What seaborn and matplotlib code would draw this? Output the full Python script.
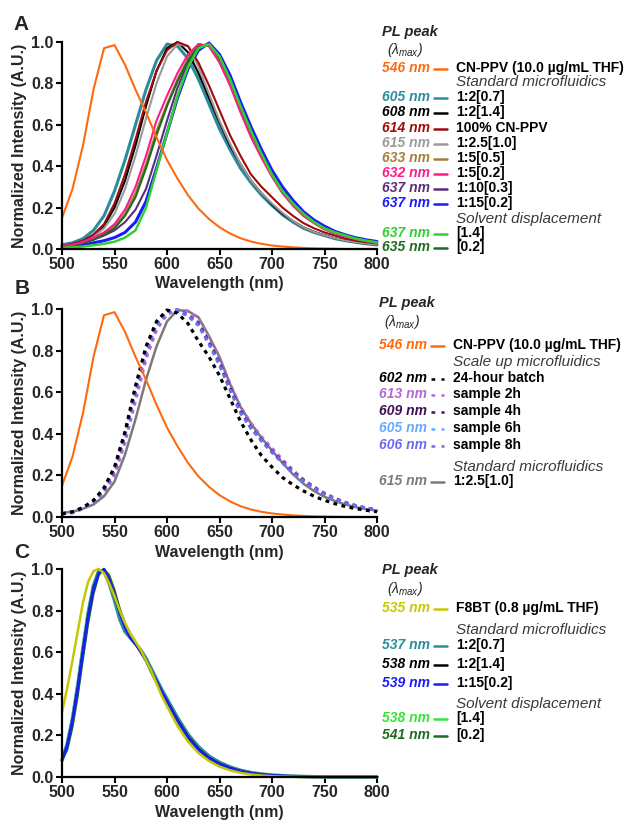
import matplotlib
matplotlib.use("Agg")
import matplotlib.pyplot as plt
from matplotlib.lines import Line2D
import seaborn as sns

# ---------------- DATA ----------------
wl_ab = [500, 510, 520, 530, 540, 550, 560, 570, 580, 590, 600, 610, 620, 630, 640, 650,
         660, 670, 680, 690, 700, 710, 720, 730, 740, 750, 760, 770, 780, 790, 800]

cnppv_thf = [0.15, 0.29, 0.50, 0.77, 0.97, 0.985, 0.89, 0.77, 0.66, 0.54, 0.43, 0.34, 0.26, 0.195, 0.145, 0.105,
             0.075, 0.052, 0.036, 0.025, 0.017, 0.012, 0.008, 0.005, 0.003, 0.002, 0.001, 0.0, 0.0, 0.0, 0.0]

# Panel A
a_605 = [0.02, 0.03, 0.05, 0.09, 0.16, 0.28, 0.43, 0.60, 0.77, 0.91, 0.99, 0.98, 0.92, 0.82, 0.70, 0.58,
         0.48, 0.39, 0.32, 0.26, 0.21, 0.165, 0.13, 0.10, 0.08, 0.065, 0.05, 0.04, 0.032, 0.025, 0.02]
a_608 = [0.015, 0.02, 0.035, 0.06, 0.11, 0.20, 0.33, 0.50, 0.69, 0.86, 0.97, 1.0, 0.95, 0.85, 0.73, 0.61,
         0.50, 0.41, 0.33, 0.27, 0.215, 0.17, 0.135, 0.105, 0.083, 0.066, 0.052, 0.041, 0.033, 0.026, 0.021]
a_614 = [0.015, 0.025, 0.04, 0.07, 0.12, 0.22, 0.36, 0.53, 0.71, 0.86, 0.96, 1.0, 0.98, 0.90, 0.79, 0.67,
         0.55, 0.45, 0.36, 0.30, 0.25, 0.20, 0.16, 0.125, 0.10, 0.08, 0.065, 0.05, 0.04, 0.033, 0.027]
a_615 = [0.015, 0.02, 0.035, 0.06, 0.10, 0.17, 0.29, 0.45, 0.63, 0.80, 0.93, 0.99, 0.98, 0.88, 0.75, 0.62,
         0.51, 0.41, 0.33, 0.27, 0.22, 0.175, 0.135, 0.105, 0.082, 0.066, 0.052, 0.041, 0.033, 0.026, 0.021]
a_633 = [0.015, 0.02, 0.03, 0.05, 0.075, 0.11, 0.17, 0.27, 0.41, 0.57, 0.70, 0.82, 0.92, 0.99, 0.98, 0.91,
         0.80, 0.67, 0.55, 0.45, 0.35, 0.27, 0.21, 0.16, 0.125, 0.095, 0.075, 0.06, 0.048, 0.038, 0.03]
a_632 = [0.015, 0.02, 0.035, 0.055, 0.08, 0.12, 0.19, 0.30, 0.45, 0.62, 0.74, 0.85, 0.94, 0.99, 0.98, 0.90,
         0.79, 0.66, 0.54, 0.44, 0.35, 0.27, 0.21, 0.16, 0.125, 0.095, 0.075, 0.06, 0.048, 0.038, 0.03]
a_637_purple = [0.015, 0.02, 0.03, 0.045, 0.065, 0.09, 0.13, 0.19, 0.29, 0.45, 0.62, 0.78, 0.90, 0.97, 0.99, 0.93,
                0.82, 0.69, 0.57, 0.46, 0.36, 0.28, 0.22, 0.17, 0.13, 0.10, 0.08, 0.064, 0.05, 0.04, 0.032]
a_637_blue = [0.01, 0.015, 0.02, 0.03, 0.04, 0.055, 0.08, 0.13, 0.23, 0.39, 0.56, 0.73, 0.87, 0.96, 0.995, 0.94,
              0.84, 0.71, 0.59, 0.48, 0.38, 0.30, 0.235, 0.18, 0.14, 0.11, 0.085, 0.068, 0.054, 0.044, 0.036]
a_637_green = [0.005, 0.008, 0.012, 0.018, 0.025, 0.035, 0.055, 0.09, 0.20, 0.38, 0.56, 0.74, 0.88, 0.97, 0.99, 0.93,
               0.82, 0.69, 0.57, 0.46, 0.36, 0.28, 0.22, 0.17, 0.13, 0.10, 0.08, 0.065, 0.05, 0.04, 0.032]
a_635 = [0.015, 0.02, 0.03, 0.045, 0.07, 0.10, 0.16, 0.25, 0.39, 0.55, 0.69, 0.81, 0.91, 0.98, 0.99, 0.92,
         0.81, 0.68, 0.56, 0.45, 0.355, 0.275, 0.215, 0.165, 0.13, 0.10, 0.078, 0.062, 0.05, 0.04, 0.032]

# Panel B
b_batch = [0.015, 0.025, 0.045, 0.08, 0.14, 0.24, 0.41, 0.63, 0.82, 0.94, 0.995, 0.98, 0.93, 0.845, 0.77, 0.68,
           0.57, 0.46, 0.37, 0.295, 0.24, 0.19, 0.155, 0.125, 0.10, 0.08, 0.064, 0.05, 0.04, 0.032, 0.025]
b_2h = [0.015, 0.02, 0.04, 0.07, 0.12, 0.20, 0.36, 0.56, 0.76, 0.90, 0.975, 0.995, 0.99, 0.95, 0.86, 0.76,
        0.64, 0.53, 0.45, 0.385, 0.33, 0.275, 0.225, 0.18, 0.145, 0.115, 0.09, 0.07, 0.055, 0.043, 0.035]
b_4h = [0.015, 0.025, 0.045, 0.075, 0.13, 0.225, 0.395, 0.605, 0.795, 0.93, 0.99, 0.995, 0.97, 0.93, 0.84, 0.74,
        0.62, 0.51, 0.43, 0.37, 0.315, 0.265, 0.215, 0.175, 0.14, 0.11, 0.087, 0.068, 0.053, 0.042, 0.034]
b_6h = [0.015, 0.025, 0.045, 0.075, 0.135, 0.23, 0.40, 0.61, 0.80, 0.93, 0.99, 0.995, 0.965, 0.92, 0.83, 0.73,
        0.61, 0.50, 0.425, 0.365, 0.31, 0.26, 0.21, 0.17, 0.137, 0.108, 0.085, 0.066, 0.052, 0.041, 0.033]
b_8h = [0.015, 0.025, 0.045, 0.075, 0.13, 0.225, 0.395, 0.60, 0.79, 0.925, 0.99, 0.99, 0.97, 0.925, 0.835, 0.735,
        0.615, 0.505, 0.43, 0.368, 0.312, 0.262, 0.212, 0.172, 0.138, 0.109, 0.086, 0.067, 0.052, 0.041, 0.033]
b_615 = [0.02, 0.025, 0.04, 0.06, 0.10, 0.17, 0.30, 0.47, 0.66, 0.82, 0.94, 0.995, 0.99, 0.96, 0.87, 0.77,
         0.64, 0.53, 0.45, 0.38, 0.32, 0.26, 0.205, 0.16, 0.125, 0.097, 0.077, 0.06, 0.047, 0.038, 0.03]

# Panel C
wl_c = [500, 505, 510, 515, 520, 525, 530, 535, 540, 545, 550, 555, 560, 565, 570, 575, 580, 585, 590, 595, 600,
        610, 620, 630, 640, 650, 660, 670, 680, 690, 700, 710, 720, 730, 740, 750, 760, 770, 780, 790, 800]
f8bt_thf = [0.31, 0.43, 0.56, 0.70, 0.84, 0.94, 0.99, 1.0, 0.98, 0.93, 0.87, 0.80, 0.74, 0.69, 0.65, 0.61, 0.56,
            0.51, 0.45, 0.39, 0.34,
            0.245, 0.17, 0.115, 0.077, 0.05, 0.032, 0.02, 0.012, 0.007, 0.004, 0.002, 0.001, 0.0, 0.0, 0.0,
            0.0, 0.0, 0.0, 0.0, 0.0]
c_537 = [0.08, 0.16, 0.28, 0.44, 0.62, 0.79, 0.92, 0.99, 0.99, 0.93, 0.85, 0.76, 0.70, 0.67, 0.64, 0.61, 0.57,
         0.52, 0.47, 0.42, 0.375,
         0.285, 0.205, 0.145, 0.10, 0.07, 0.048, 0.032, 0.021, 0.014, 0.009, 0.006, 0.004, 0.002, 0.001, 0.0,
         0.0, 0.0, 0.0, 0.0, 0.0]
c_538_black = [0.08, 0.15, 0.27, 0.43, 0.61, 0.78, 0.91, 0.98, 0.995, 0.95, 0.87, 0.79, 0.72, 0.67, 0.64, 0.60, 0.56,
               0.51, 0.46, 0.41, 0.365,
               0.275, 0.195, 0.135, 0.093, 0.064, 0.044, 0.029, 0.019, 0.012, 0.008, 0.005, 0.003, 0.001, 0.0, 0.0,
               0.0, 0.0, 0.0, 0.0, 0.0]
c_539 = [0.08, 0.15, 0.27, 0.42, 0.60, 0.77, 0.90, 0.98, 1.0, 0.95, 0.88, 0.79, 0.72, 0.67, 0.64, 0.60, 0.56,
         0.51, 0.46, 0.41, 0.365,
         0.27, 0.19, 0.13, 0.09, 0.062, 0.042, 0.028, 0.018, 0.012, 0.008, 0.005, 0.003, 0.001, 0.0, 0.0,
         0.0, 0.0, 0.0, 0.0, 0.0]
c_538_green = [0.08, 0.14, 0.25, 0.41, 0.59, 0.76, 0.90, 0.98, 1.0, 0.96, 0.89, 0.80, 0.73, 0.68, 0.645, 0.60, 0.555,
               0.50, 0.45, 0.40, 0.355,
               0.265, 0.185, 0.125, 0.085, 0.058, 0.039, 0.026, 0.017, 0.011, 0.007, 0.004, 0.002, 0.001, 0.0, 0.0,
               0.0, 0.0, 0.0, 0.0, 0.0]
c_541 = [0.08, 0.13, 0.24, 0.39, 0.57, 0.74, 0.88, 0.97, 1.0, 0.97, 0.90, 0.81, 0.74, 0.69, 0.65, 0.605, 0.56,
         0.505, 0.455, 0.405, 0.36,
         0.27, 0.19, 0.13, 0.088, 0.06, 0.04, 0.027, 0.018, 0.011, 0.007, 0.004, 0.002, 0.001, 0.0, 0.0,
         0.0, 0.0, 0.0, 0.0, 0.0]

# Legend texts
a_peaks = ["546 nm", "605 nm", "608 nm", "614 nm", "615 nm", "633 nm", "632 nm", "637 nm", "637 nm", "637 nm", "635 nm"]
a_names = ["CN-PPV (10.0 \u00b5g/mL THF)", "1:2[0.7]", "1:2[1.4]", "100% CN-PPV", "1:2.5[1.0]", "1:5[0.5]",
           "1:5[0.2]", "1:10[0.3]", "1:15[0.2]", "[1.4]", "[0.2]"]
b_peaks = ["546 nm", "602 nm", "613 nm", "609 nm", "605 nm", "606 nm", "615 nm"]
b_names = ["CN-PPV (10.0 \u00b5g/mL THF)", "24-hour batch", "sample 2h", "sample 4h", "sample 6h", "sample 8h",
           "1:2.5[1.0]"]
c_peaks = ["535 nm", "537 nm", "538 nm", "539 nm", "538 nm", "541 nm"]
c_names = ["F8BT (0.8 \u00b5g/mL THF)", "1:2[0.7]", "1:2[1.4]", "1:15[0.2]", "[1.4]", "[0.2]"]

x_ticks = [500, 550, 600, 650, 700, 750, 800]
y_ticks = [0.0, 0.2, 0.4, 0.6, 0.8, 1.0]

# ---------------- STYLE ----------------
sns.set_theme(style="ticks")
plt.rcParams["font.family"] = ["Liberation Sans", "DejaVu Sans"]
plt.rcParams["mathtext.fontset"] = "custom"
plt.rcParams["mathtext.it"] = "Liberation Sans:italic"
plt.rcParams["mathtext.rm"] = "Liberation Sans"

W, H = 629, 823
fig = plt.figure(figsize=(W / 100, H / 100), dpi=100)


def fx(px):
    return px / W


def fy(py):
    return 1 - py / H


def make_ax(top, bottom):
    ax = fig.add_axes([fx(62), fy(bottom), (377 - 62) / W, (bottom - top) / H])
    return ax


def style_ax(ax):
    ax.set_xlim(500, 800)
    ax.set_ylim(0, 1.0)
    ax.set_xticks(x_ticks)
    ax.set_yticks(y_ticks)
    ax.set_xticklabels([str(t) for t in x_ticks])
    ax.set_yticklabels([f"{t:.1f}" for t in y_ticks])
    for s in ["top", "right"]:
        ax.spines[s].set_visible(False)
    for s in ["left", "bottom"]:
        ax.spines[s].set_linewidth(1.6)
        ax.spines[s].set_color("black")
    ax.tick_params(axis="both", direction="out", length=4, width=1.5, color="black",
                   labelsize=11.5, pad=2)
    for lab in ax.get_xticklabels() + ax.get_yticklabels():
        lab.set_fontweight("bold")
    ax.set_xlabel("Wavelength (nm)", fontsize=11.5, fontweight="bold", labelpad=3)
    ax.set_ylabel("Normalized Intensity (A.U.)", fontsize=11.5, fontweight="bold", labelpad=3)
    ax.grid(False)


def draw(ax, x, y, color, lw=1.5, ls="-"):
    sns.lineplot(x=x, y=y, ax=ax, color=color, linewidth=lw, linestyle=ls,
                 estimator=None, sort=False, legend=False, clip_on=False)


def legend_block(rows, y_pl, y_lam, dx=0):
    fig.text(fx(382 + dx), fy(y_pl), "PL peak", fontsize=10.5, fontweight="bold", style="italic",
             va="center", ha="left")
    fig.text(fx(387 + dx), fy(y_lam), r"($\lambda_{max}$)", fontsize=10, style="italic",
             va="center", ha="left")
    for r in rows:
        if r[0] == "h":
            _, y, txt = r
            fig.text(fx(456 + dx), fy(y), txt, fontsize=11, style="italic", color="#3a3a3a",
                     va="center", ha="left")
        else:
            _, y, peak, name, color, ls = r
            fig.text(fx(430 + dx), fy(y), peak, fontsize=10, fontweight="bold", style="italic",
                     color=color, va="center", ha="right")
            fig.add_artist(Line2D([fx(434 + dx), fx(447 + dx)], [fy(y + 1), fy(y + 1)],
                                  color=color, lw=1.8, linestyle=ls, transform=fig.transFigure))
            fig.text(fx(456 + dx), fy(y), name, fontsize=10, fontweight="bold", color="black",
                     va="center", ha="left")


# colors
ORANGE = "#ff6a10"
TEAL = "#2a8c9c"
DKRED = "#a00a0a"
GREY = "#9a9a9a"
BROWN = "#a67c3d"
PINK = "#ff1a8c"
PURPLE = "#5b2c7d"
BLUE = "#1a1aff"
GREEN = "#2ed12e"
DKGREEN = "#1e6b1e"

# ---------------- PANEL A ----------------
axA = make_ax(42, 249)
a_series = [
    (a_637_blue, BLUE, 2.2), (a_605, TEAL, 2.2), (a_608, "black", 1.5), (a_615, GREY, 1.5),
    (a_614, DKRED, 1.5), (a_633, BROWN, 1.5), (a_637_purple, PURPLE, 1.5), (a_635, DKGREEN, 1.5),
    (a_632, PINK, 1.5), (a_637_green, GREEN, 1.8), (cnppv_thf, ORANGE, 1.5),
]
for y, c, lw in a_series:
    draw(axA, wl_ab, y, c, lw)
style_ax(axA)
a_colors = [ORANGE, TEAL, "black", DKRED, GREY, BROWN, PINK, PURPLE, BLUE, GREEN, DKGREEN]
a_y = [68, 97, 112, 128, 143, 158, 173, 188, 203, 233, 247]
rowsA = [("r", a_y[0], a_peaks[0], a_names[0], a_colors[0], "-"), ("h", 82, "Standard microfluidics")]
for i in range(1, 9):
    rowsA.append(("r", a_y[i], a_peaks[i], a_names[i], a_colors[i], "-"))
rowsA.append(("h", 219, "Solvent displacement"))
for i in range(9, 11):
    rowsA.append(("r", a_y[i], a_peaks[i], a_names[i], a_colors[i], "-"))
legend_block(rowsA, 32, 50)

# ---------------- PANEL B ----------------
axB = make_ax(309, 517)
DOT = (0, (1.2, 1.4))
B_PURPLE = "#b566d8"
B_DKPURPLE = "#3d0f55"
B_LTBLUE = "#66aaff"
B_VIOLET = "#6b6bf0"
B_GREY = "#7a7a7a"
draw(axB, wl_ab, b_615, B_GREY, 1.8)
draw(axB, wl_ab, b_2h, B_PURPLE, 2.3, DOT)
draw(axB, wl_ab, b_4h, B_DKPURPLE, 2.3, DOT)
draw(axB, wl_ab, b_6h, B_LTBLUE, 2.3, DOT)
draw(axB, wl_ab, b_8h, B_VIOLET, 2.3, DOT)
draw(axB, wl_ab, b_batch, "black", 2.3, DOT)
draw(axB, wl_ab, cnppv_thf, ORANGE, 1.5)
style_ax(axB)
b_colors = [ORANGE, "black", B_PURPLE, B_DKPURPLE, B_LTBLUE, B_VIOLET, B_GREY]
b_styles = ["-", (0, (1.5, 2.5)), (0, (1.5, 2.5)), (0, (1.5, 2.5)), (0, (1.5, 2.5)), (0, (1.5, 2.5)), "-"]
b_y = [345, 378, 394, 411, 428, 445, 481]
rowsB = [("r", b_y[0], b_peaks[0], b_names[0], b_colors[0], b_styles[0]), ("h", 362, "Scale up microfluidics")]
for i in range(1, 6):
    rowsB.append(("r", b_y[i], b_peaks[i], b_names[i], b_colors[i], b_styles[i]))
rowsB.append(("h", 467, "Standard microfluidics"))
rowsB.append(("r", b_y[6], b_peaks[6], b_names[6], b_colors[6], b_styles[6]))
legend_block(rowsB, 303, 322, dx=-3)

# ---------------- PANEL C ----------------
axC = make_ax(569, 777)
C_YELLOW = "#c8c800"
C_GREEN = "#33e633"
draw(axC, wl_c, c_537, TEAL, 2.6)
draw(axC, wl_c, c_538_black, "black", 1.5)
draw(axC, wl_c, c_538_green, C_GREEN, 1.5)
draw(axC, wl_c, c_541, DKGREEN, 1.5)
draw(axC, wl_c, c_539, BLUE, 1.8)
draw(axC, wl_c, f8bt_thf, C_YELLOW, 1.8)
style_ax(axC)
c_colors = [C_YELLOW, TEAL, "black", BLUE, C_GREEN, DKGREEN]
c_y = [608, 645, 664, 683, 718, 735]
rowsC = [("r", c_y[0], c_peaks[0], c_names[0], c_colors[0], "-"), ("h", 630, "Standard microfluidics")]
for i in range(1, 4):
    rowsC.append(("r", c_y[i], c_peaks[i], c_names[i], c_colors[i], "-"))
rowsC.append(("h", 704, "Solvent displacement"))
for i in range(4, 6):
    rowsC.append(("r", c_y[i], c_peaks[i], c_names[i], c_colors[i], "-"))
legend_block(rowsC, 570, 589)

# panel letters
for letter, (px, py) in zip(["A", "B", "C"], [(21, 24), (22, 288), (22, 553)]):
    fig.text(fx(px), fy(py), letter, fontsize=15, fontweight="bold", ha="center", va="center")

fig.savefig("out.png", dpi=100)
